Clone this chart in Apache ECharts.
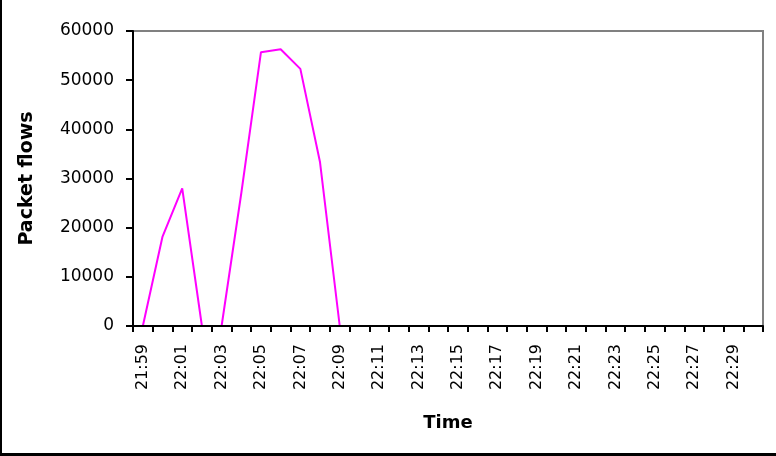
<!DOCTYPE html>
<html><head><meta charset="utf-8">
<script src="https://cdn.jsdelivr.net/npm/echarts@6/dist/echarts.min.js"></script>
<style>html,body{margin:0;padding:0;background:#fff}#c{width:776px;height:456px}</style>
</head><body><div id="c"></div>
<script>
const categories = ["21:59","22:00","22:01","22:02","22:03","22:04","22:05","22:06","22:07","22:08","22:09","22:10","22:11","22:12","22:13","22:14","22:15","22:16","22:17","22:18","22:19","22:20","22:21","22:22","22:23","22:24","22:25","22:26","22:27","22:28","22:29","22:30"];
const packetFlows = [0,18200,28000,0,0,27000,55700,56300,52300,33300,0,null,null,null,null,null,null,null,null,null,null,null,null,null,null,null,null,null,null,null,null,null];
const yTicks = {min:0, max:60000, interval:10000};

const chart = echarts.init(document.getElementById('c'), null, {renderer:'canvas'});
const font = 'DejaVu Sans';
chart.setOption({
  backgroundColor:'#fff',
  animation:false,
  grid:{left:133, top:31, right:13, bottom:130, show:true, borderColor:'#808080', borderWidth:2, backgroundColor:'transparent'},
  xAxis:{
    type:'category', data:categories, boundaryGap:true, z:5,
    name:'Time', nameLocation:'middle', nameGap:88,
    nameTextStyle:{fontFamily:font, fontWeight:'bold', fontSize:18, color:'#000'},
    axisLine:{lineStyle:{color:'#000', width:2}},
    axisTick:{show:true, length:6, alignWithLabel:false, interval:0, lineStyle:{color:'#000', width:2}},
    axisLabel:{interval:1, rotate:90, margin:18, fontFamily:font, fontSize:16, color:'#000'},
    splitLine:{show:false}
  },
  yAxis:{
    type:'value', min:yTicks.min, max:yTicks.max, interval:yTicks.interval, z:5,
    name:'Packet flows', nameLocation:'middle', nameGap:96, nameRotate:90,
    nameTextStyle:{fontFamily:font, fontWeight:'bold', fontSize:19, color:'#000'},
    axisLine:{show:true, lineStyle:{color:'#000', width:2}},
    axisTick:{show:true, length:7, lineStyle:{color:'#000', width:2}},
    axisLabel:{margin:19, fontFamily:font, fontSize:17, color:'#000', formatter:function(v){return String(v);}},
    splitLine:{show:false}
  },
  series:[{
    type:'line', data:packetFlows, showSymbol:false, symbol:'none', z:2,
    lineStyle:{color:'#ff00ff', width:2}, itemStyle:{color:'#ff00ff'}
  }],
  graphic:[
    {type:'rect', shape:{x:0, y:0, width:2, height:456}, style:{fill:'#000'}, z:10},
    {type:'rect', shape:{x:0, y:453, width:776, height:3}, style:{fill:'#000'}, z:10}
  ]
});
</script></body></html>
